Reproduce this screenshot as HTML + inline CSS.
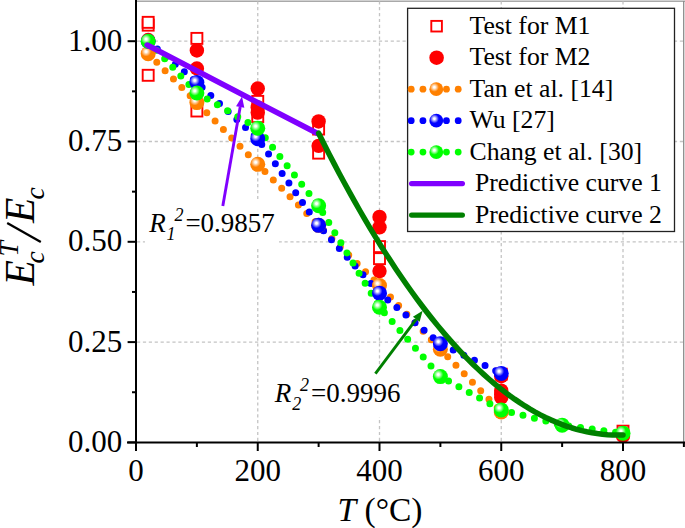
<!DOCTYPE html>
<html><head><meta charset="utf-8"><style>html,body{margin:0;padding:0;background:#fff;overflow:hidden}svg{display:block}</style></head>
<body>
<svg width="685" height="528" viewBox="0 0 685 528">
<defs>
<radialGradient id="gO" cx="0.36" cy="0.36" r="0.6" fx="0.36" fy="0.36"><stop offset="0" stop-color="#fff"/><stop offset="0.1" stop-color="#fff"/><stop offset="0.55" stop-color="#FF8000"/><stop offset="1" stop-color="#FF8000"/></radialGradient>
<radialGradient id="gB" cx="0.36" cy="0.36" r="0.6" fx="0.36" fy="0.36"><stop offset="0" stop-color="#fff"/><stop offset="0.1" stop-color="#fff"/><stop offset="0.55" stop-color="#0000FF"/><stop offset="1" stop-color="#0000FF"/></radialGradient>
<radialGradient id="gG" cx="0.36" cy="0.36" r="0.6" fx="0.36" fy="0.36"><stop offset="0" stop-color="#fff"/><stop offset="0.1" stop-color="#fff"/><stop offset="0.55" stop-color="#00FF00"/><stop offset="1" stop-color="#00FF00"/></radialGradient>
</defs>
<rect width="685" height="528" fill="#fff"/>
<line x1="136" y1="1.2" x2="685" y2="1.2" stroke="#8c8c8c" stroke-width="1.3"/>
<line x1="136" y1="0" x2="685" y2="0" stroke="#ddd" stroke-width="1"/>
<line x1="683.7" y1="1" x2="683.7" y2="442" stroke="#8c8c8c" stroke-width="1.3"/>
<line x1="257.75" y1="441" x2="257.75" y2="1.5" stroke="#c4c4c4" stroke-width="1.3" stroke-dasharray="3.2 2.7"/>
<line x1="379.50" y1="441" x2="379.50" y2="1.5" stroke="#c4c4c4" stroke-width="1.3" stroke-dasharray="3.2 2.7"/>
<line x1="501.25" y1="441" x2="501.25" y2="1.5" stroke="#c4c4c4" stroke-width="1.3" stroke-dasharray="3.2 2.7"/>
<line x1="623.00" y1="441" x2="623.00" y2="1.5" stroke="#c4c4c4" stroke-width="1.3" stroke-dasharray="3.2 2.7"/>
<line x1="137" y1="342.10" x2="683" y2="342.10" stroke="#c4c4c4" stroke-width="1.3" stroke-dasharray="3.2 2.7"/>
<line x1="137" y1="241.80" x2="683" y2="241.80" stroke="#c4c4c4" stroke-width="1.3" stroke-dasharray="3.2 2.7"/>
<line x1="137" y1="141.50" x2="683" y2="141.50" stroke="#c4c4c4" stroke-width="1.3" stroke-dasharray="3.2 2.7"/>
<line x1="137" y1="41.20" x2="683" y2="41.20" stroke="#c4c4c4" stroke-width="1.3" stroke-dasharray="3.2 2.7"/>
<rect x="142.68" y="19.65" width="11" height="11" fill="#fff" stroke="#FF0000" stroke-width="1.9"/>
<rect x="142.68" y="16.84" width="11" height="11" fill="#fff" stroke="#FF0000" stroke-width="1.9"/>
<rect x="142.68" y="69.80" width="11" height="11" fill="#fff" stroke="#FF0000" stroke-width="1.9"/>
<rect x="191.38" y="32.89" width="11" height="11" fill="#fff" stroke="#FF0000" stroke-width="1.9"/>
<rect x="191.38" y="105.51" width="11" height="11" fill="#fff" stroke="#FF0000" stroke-width="1.9"/>
<rect x="252.25" y="95.88" width="11" height="11" fill="#fff" stroke="#FF0000" stroke-width="1.9"/>
<rect x="252.25" y="111.13" width="11" height="11" fill="#fff" stroke="#FF0000" stroke-width="1.9"/>
<rect x="313.12" y="123.56" width="11" height="11" fill="#fff" stroke="#FF0000" stroke-width="1.9"/>
<rect x="313.12" y="147.63" width="11" height="11" fill="#fff" stroke="#FF0000" stroke-width="1.9"/>
<rect x="374.00" y="241.11" width="11" height="11" fill="#fff" stroke="#FF0000" stroke-width="1.9"/>
<rect x="374.00" y="253.15" width="11" height="11" fill="#fff" stroke="#FF0000" stroke-width="1.9"/>
<rect x="495.75" y="368.70" width="11" height="11" fill="#fff" stroke="#FF0000" stroke-width="1.9"/>
<rect x="617.50" y="425.67" width="11" height="11" fill="#fff" stroke="#FF0000" stroke-width="1.9"/>
<circle cx="148.18" cy="40.00" r="7.2" fill="#FF0000"/>
<circle cx="196.88" cy="50.43" r="7.2" fill="#FF0000"/>
<circle cx="196.88" cy="68.48" r="7.2" fill="#FF0000"/>
<circle cx="257.75" cy="88.54" r="7.2" fill="#FF0000"/>
<circle cx="257.75" cy="107.40" r="7.2" fill="#FF0000"/>
<circle cx="257.75" cy="112.61" r="7.2" fill="#FF0000"/>
<circle cx="318.62" cy="121.44" r="7.2" fill="#FF0000"/>
<circle cx="318.62" cy="145.91" r="7.2" fill="#FF0000"/>
<circle cx="379.50" cy="216.93" r="7.2" fill="#FF0000"/>
<circle cx="379.50" cy="227.36" r="7.2" fill="#FF0000"/>
<circle cx="379.50" cy="271.09" r="7.2" fill="#FF0000"/>
<circle cx="501.25" cy="376.20" r="7.2" fill="#FF0000"/>
<circle cx="501.25" cy="390.65" r="7.2" fill="#FF0000"/>
<circle cx="501.25" cy="394.26" r="7.2" fill="#FF0000"/>
<circle cx="501.25" cy="397.47" r="7.2" fill="#FF0000"/>
<circle cx="623.00" cy="435.98" r="7.2" fill="#FF0000"/>
<polyline points="148.18,53.64 196.88,102.58 257.75,164.37 318.62,225.35 379.50,285.53 440.38,349.32 501.25,411.91" stroke="#FF8000" stroke-width="7" stroke-linecap="round" stroke-linejoin="round" fill="none" stroke-dasharray="0 11.83" stroke-dashoffset="-0.36"/>
<polyline points="148.18,41.20 196.88,82.52 257.75,138.69 318.62,225.35 379.50,293.15 440.38,343.70 501.25,373.39" stroke="#0000FF" stroke-width="7" stroke-linecap="round" stroke-linejoin="round" fill="none" stroke-dasharray="0 11.81" stroke-dashoffset="-0.16"/>
<polyline points="148.18,41.20 196.88,92.95 257.75,128.26 318.62,205.69 379.50,307.20 440.38,376.60 501.25,409.90 562.12,425.15 623.00,433.17" stroke="#00FF00" stroke-width="7" stroke-linecap="round" stroke-linejoin="round" fill="none" stroke-dasharray="0 11.78" stroke-dashoffset="-0.51"/>
<circle cx="148.18" cy="53.64" r="7.5" fill="url(#gO)"/>
<circle cx="196.88" cy="102.58" r="7.5" fill="url(#gO)"/>
<circle cx="257.75" cy="164.37" r="7.5" fill="url(#gO)"/>
<circle cx="318.62" cy="225.35" r="7.5" fill="url(#gO)"/>
<circle cx="379.50" cy="285.53" r="7.5" fill="url(#gO)"/>
<circle cx="440.38" cy="349.32" r="7.5" fill="url(#gO)"/>
<circle cx="501.25" cy="411.91" r="7.5" fill="url(#gO)"/>
<circle cx="148.18" cy="41.20" r="7.5" fill="url(#gB)"/>
<circle cx="196.88" cy="82.52" r="7.5" fill="url(#gB)"/>
<circle cx="257.75" cy="138.69" r="7.5" fill="url(#gB)"/>
<circle cx="318.62" cy="225.35" r="7.5" fill="url(#gB)"/>
<circle cx="379.50" cy="293.15" r="7.5" fill="url(#gB)"/>
<circle cx="440.38" cy="343.70" r="7.5" fill="url(#gB)"/>
<circle cx="501.25" cy="373.39" r="7.5" fill="url(#gB)"/>
<circle cx="148.18" cy="41.20" r="7.5" fill="url(#gG)"/>
<circle cx="196.88" cy="92.95" r="7.5" fill="url(#gG)"/>
<circle cx="257.75" cy="128.26" r="7.5" fill="url(#gG)"/>
<circle cx="318.62" cy="205.69" r="7.5" fill="url(#gG)"/>
<circle cx="379.50" cy="307.20" r="7.5" fill="url(#gG)"/>
<circle cx="440.38" cy="376.60" r="7.5" fill="url(#gG)"/>
<circle cx="501.25" cy="409.90" r="7.5" fill="url(#gG)"/>
<circle cx="562.12" cy="425.15" r="7.5" fill="url(#gG)"/>
<circle cx="623.00" cy="433.17" r="7.5" fill="url(#gG)"/>
<line x1="147.2" y1="45.1" x2="318.6" y2="134.1" stroke="#8000FF" stroke-width="5.6" stroke-linecap="round"/>
<polyline points="318.62,133.22 323.78,143.54 328.94,153.68 334.10,163.64 339.26,173.42 344.42,183.02 349.58,192.44 354.74,201.68 359.90,210.75 365.06,219.63 370.21,228.33 375.37,236.85 380.53,245.20 385.69,253.36 390.85,261.35 396.01,269.15 401.17,276.78 406.33,284.23 411.49,291.49 416.64,298.58 421.80,305.49 426.96,312.22 432.12,318.77 437.28,325.14 442.44,331.33 447.60,337.34 452.76,343.17 457.92,348.82 463.07,354.29 468.23,359.59 473.39,364.70 478.55,369.63 483.71,374.39 488.87,378.96 494.03,383.36 499.19,387.57 504.35,391.61 509.50,395.47 514.66,399.14 519.82,402.64 524.98,405.96 530.14,409.10 535.30,412.06 540.46,414.84 545.62,417.44 550.78,419.86 555.93,422.10 561.09,424.16 566.25,426.05 571.41,427.75 576.57,429.27 581.73,430.62 586.89,431.78 592.05,432.77 597.21,433.57 602.36,434.20 607.52,434.64 612.68,434.91 617.84,435.00 623.00,434.91" stroke="#008000" stroke-width="5.5" stroke-linecap="round" stroke-linejoin="round" fill="none"/>
<rect x="145" y="201" width="134" height="47" fill="#fff"/>
<rect x="270.5" y="370.5" width="134" height="47" fill="#fff"/>
<line x1="222.80" y1="206.00" x2="240.18" y2="106.94" stroke="#8000FF" stroke-width="2.9"/><polygon points="242.00,96.60 244.32,107.67 236.05,106.22" fill="#8000FF"/>
<line x1="375.40" y1="373.70" x2="416.30" y2="319.20" stroke="#008000" stroke-width="2.9"/><polygon points="422.60,310.80 419.66,321.72 412.94,316.68" fill="#008000"/>
<line x1="136" y1="0" x2="136" y2="451" stroke="#000" stroke-width="2"/>
<line x1="127" y1="442.4" x2="685" y2="442.4" stroke="#000" stroke-width="2"/>
<line x1="127.6" y1="442.40" x2="136" y2="442.40" stroke="#000" stroke-width="2"/>
<line x1="127.6" y1="342.10" x2="136" y2="342.10" stroke="#000" stroke-width="2"/>
<line x1="127.6" y1="241.80" x2="136" y2="241.80" stroke="#000" stroke-width="2"/>
<line x1="127.6" y1="141.50" x2="136" y2="141.50" stroke="#000" stroke-width="2"/>
<line x1="127.6" y1="41.20" x2="136" y2="41.20" stroke="#000" stroke-width="2"/>
<line x1="132" y1="392.25" x2="136" y2="392.25" stroke="#000" stroke-width="2"/>
<line x1="132" y1="291.95" x2="136" y2="291.95" stroke="#000" stroke-width="2"/>
<line x1="132" y1="191.65" x2="136" y2="191.65" stroke="#000" stroke-width="2"/>
<line x1="132" y1="91.35" x2="136" y2="91.35" stroke="#000" stroke-width="2"/>
<line x1="136.00" y1="442" x2="136.00" y2="451" stroke="#000" stroke-width="2"/>
<line x1="257.75" y1="442" x2="257.75" y2="451" stroke="#000" stroke-width="2"/>
<line x1="379.50" y1="442" x2="379.50" y2="451" stroke="#000" stroke-width="2"/>
<line x1="501.25" y1="442" x2="501.25" y2="451" stroke="#000" stroke-width="2"/>
<line x1="623.00" y1="442" x2="623.00" y2="451" stroke="#000" stroke-width="2"/>
<line x1="196.88" y1="442" x2="196.88" y2="447" stroke="#000" stroke-width="2"/>
<line x1="318.62" y1="442" x2="318.62" y2="447" stroke="#000" stroke-width="2"/>
<line x1="440.38" y1="442" x2="440.38" y2="447" stroke="#000" stroke-width="2"/>
<line x1="562.12" y1="442" x2="562.12" y2="447" stroke="#000" stroke-width="2"/>
<line x1="683.88" y1="442" x2="683.88" y2="447" stroke="#000" stroke-width="2"/>
<text x="122.2" y="451.80" font-family="Liberation Serif" font-size="31" text-anchor="end">0.00</text>
<text x="122.2" y="351.50" font-family="Liberation Serif" font-size="31" text-anchor="end">0.25</text>
<text x="122.2" y="251.20" font-family="Liberation Serif" font-size="31" text-anchor="end">0.50</text>
<text x="122.2" y="150.90" font-family="Liberation Serif" font-size="31" text-anchor="end">0.75</text>
<text x="122.2" y="50.60" font-family="Liberation Serif" font-size="31" text-anchor="end">1.00</text>
<text x="136.00" y="481.2" font-family="Liberation Serif" font-size="31" text-anchor="middle">0</text>
<text x="257.75" y="481.2" font-family="Liberation Serif" font-size="31" text-anchor="middle">200</text>
<text x="379.50" y="481.2" font-family="Liberation Serif" font-size="31" text-anchor="middle">400</text>
<text x="501.25" y="481.2" font-family="Liberation Serif" font-size="31" text-anchor="middle">600</text>
<text x="623.00" y="481.2" font-family="Liberation Serif" font-size="31" text-anchor="middle">800</text>
<text x="337.5" y="521.4" font-family="Liberation Serif" font-size="34" textLength="85" lengthAdjust="spacingAndGlyphs"><tspan font-style="italic">T</tspan> (°C)</text>
<g transform="rotate(-90)"><text x="-285.5" y="33.8" font-family="Liberation Serif" font-size="41.5" font-style="italic">E</text><text x="-263.5" y="44.2" font-family="Liberation Serif" font-size="27.5" font-style="italic">c</text><text x="-256.5" y="17.8" font-family="Liberation Serif" font-size="27.5" font-style="italic">T</text><text x="-223" y="33.8" font-family="Liberation Serif" font-size="41.5" font-style="italic">E</text><text x="-199.5" y="44.4" font-family="Liberation Serif" font-size="27.5" font-style="italic">c</text></g>
<line x1="7.2" y1="222.9" x2="40.8" y2="242.1" stroke="#000" stroke-width="2.3"/>
<text x="149.2" y="232.1" font-family="Liberation Serif" font-size="27" font-style="italic">R</text><text x="166.6" y="239.7" font-family="Liberation Serif" font-size="18" font-style="italic">1</text><text x="174.39999999999998" y="221.29999999999998" font-family="Liberation Serif" font-size="18" font-style="italic">2</text><text x="185.39999999999998" y="232.1" font-family="Liberation Serif" font-size="27">=0.9857</text>
<text x="274.8" y="402.2" font-family="Liberation Serif" font-size="27" font-style="italic">R</text><text x="292.2" y="409.8" font-family="Liberation Serif" font-size="18" font-style="italic">2</text><text x="300.0" y="391.4" font-family="Liberation Serif" font-size="18" font-style="italic">2</text><text x="311.0" y="402.2" font-family="Liberation Serif" font-size="27">=0.9996</text>
<rect x="407.6" y="8.3" width="66.9" height="223.2" fill="#fff" stroke="none"/>
<rect x="407.6" y="8.3" width="266.9" height="223.2" fill="#fff" stroke="#222" stroke-width="1.3"/>
<rect x="431.30" y="20.90" width="10.6" height="10.6" fill="#fff" stroke="#FF0000" stroke-width="1.9"/>
<circle cx="436.6" cy="57.68" r="7.3" fill="#FF0000"/>
<circle cx="411.2" cy="89.16" r="3.4" fill="#FF8000"/>
<circle cx="422.95" cy="89.16" r="3.4" fill="#FF8000"/>
<circle cx="446.45" cy="89.16" r="3.4" fill="#FF8000"/>
<circle cx="458.2" cy="89.16" r="3.4" fill="#FF8000"/>
<circle cx="436.3" cy="89.16" r="6.9" fill="url(#gO)"/>
<circle cx="411.2" cy="120.64" r="3.4" fill="#0000FF"/>
<circle cx="422.95" cy="120.64" r="3.4" fill="#0000FF"/>
<circle cx="446.45" cy="120.64" r="3.4" fill="#0000FF"/>
<circle cx="458.2" cy="120.64" r="3.4" fill="#0000FF"/>
<circle cx="436.3" cy="120.64" r="6.9" fill="url(#gB)"/>
<circle cx="411.2" cy="152.12" r="3.4" fill="#00FF00"/>
<circle cx="422.95" cy="152.12" r="3.4" fill="#00FF00"/>
<circle cx="446.45" cy="152.12" r="3.4" fill="#00FF00"/>
<circle cx="458.2" cy="152.12" r="3.4" fill="#00FF00"/>
<circle cx="436.3" cy="152.12" r="6.9" fill="url(#gG)"/>
<line x1="411.6" y1="183.60" x2="462.4" y2="183.60" stroke="#8000FF" stroke-width="5.2" stroke-linecap="round"/>
<line x1="411.6" y1="215.08" x2="462.4" y2="215.08" stroke="#008000" stroke-width="5.2" stroke-linecap="round"/>
<text x="469.5" y="33.90" font-family="Liberation Serif" font-size="25.7">Test for M1</text>
<text x="469.5" y="65.38" font-family="Liberation Serif" font-size="25.7">Test for M2</text>
<text x="469.5" y="96.86" font-family="Liberation Serif" font-size="25.7">Tan et al. [14]</text>
<text x="469.5" y="128.34" font-family="Liberation Serif" font-size="25.7">Wu [27]</text>
<text x="469.5" y="159.82" font-family="Liberation Serif" font-size="25.7">Chang et al. [30]</text>
<text x="475" y="191.30" font-family="Liberation Serif" font-size="25.7">Predictive curve 1</text>
<text x="475" y="222.78" font-family="Liberation Serif" font-size="25.7">Predictive curve 2</text>
</svg>
</body></html>
